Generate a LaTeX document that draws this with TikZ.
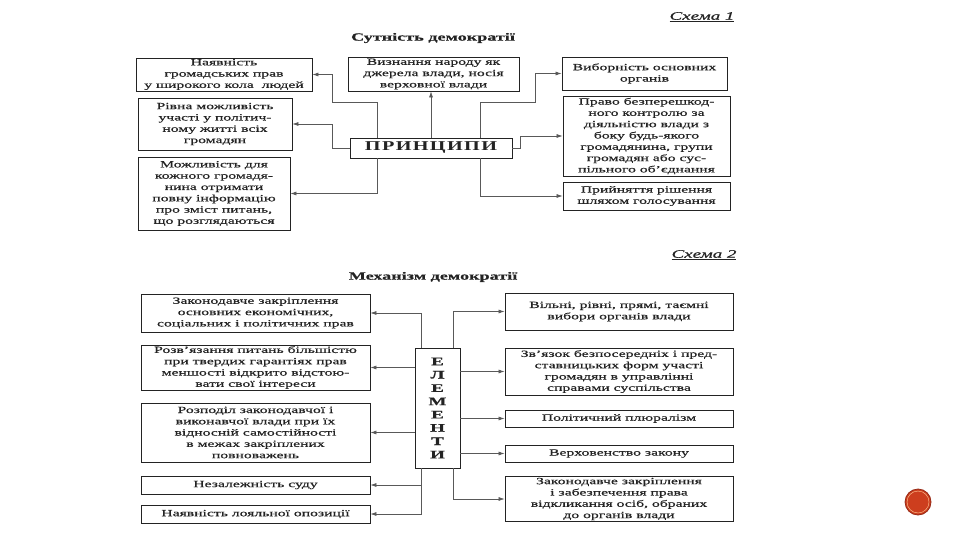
\documentclass[tikz,border=0pt]{standalone}
\usepackage{fontspec}
\setmainfont{Liberation Serif}[FakeStretch=1.65, FakeBold=0.6]
\newfontfamily\spacedfont{Liberation Serif}[FakeStretch=1.5, LetterSpace=10]
\usetikzlibrary{arrows.meta}

\definecolor{inkgray}{RGB}{35,35,35}
\definecolor{badgered}{RGB}{205,62,30}
\definecolor{badgerim}{RGB}{150,40,20}

\tikzset{
  box/.style={draw=inkgray, line width=0.9pt, align=center, inner sep=1pt,
    text=inkgray, font=\fontsize{9.5}{11.3}\selectfont},
  link/.style={draw=black!65, line width=0.6pt},
  heading/.style={text=inkgray, font=\fontsize{11}{13}\selectfont\bfseries},
  schemename/.style={text=inkgray, font=\fontsize{11.5}{13}\selectfont\itshape},
}

\begin{document}
\begin{tikzpicture}[x=1pt, y=-1pt, >={Latex[length=6pt,width=4pt]}]
  \path[use as bounding box, fill=white] (0,0) rectangle (960,540);

  % --- Scheme 1: principles ---
  \node[schemename] (sch1) at (702,17) {\underline{Схема 1}};
  \node[heading] (tit1) at (433,38) {Сутність демократії};

  \node[box, minimum width=162pt, minimum height=20pt,
        font=\fontsize{13.5}{14}\spacedfont\bfseries] (pr) at (431,148) {ПРИНЦИПИ};

  % left column
  \node[box, minimum width=176pt, minimum height=33pt] (nal) at (224,74.5)
    {Наявність\\громадських прав\\у широкого кола\ \ людей};
  \node[box, minimum width=154pt, minimum height=52pt] (riv) at (215,124)
    {Рівна можливість\\участі у політич-\\ному житті всіх\\громадян};
  \node[box, minimum width=152pt, minimum height=73pt] (mozh) at (214,193.5)
    {Можливість для\\кожного громадя-\\нина отримати\\повну інформацію\\про зміст питань,\\що розглядаються};

  % middle and right column
  \node[box, minimum width=171pt, minimum height=34pt] (viz) at (433.5,74)
    {Визнання народу як\\джерела влади, носія\\верховної влади};
  \node[box, minimum width=165pt, minimum height=33pt] (vyb) at (644.5,73.5)
    {Виборність основних\\органів};
  \node[box, minimum width=167pt, minimum height=80pt] (pravo) at (646.5,136)
    {Право безперешкод-\\ного контролю за\\діяльністю влади з\\боку будь-якого\\громадянина, групи\\громадян або сус-\\пільного об’єднання};
  \node[box, minimum width=167pt, minimum height=28pt] (pryin) at (646.5,196)
    {Прийняття рішення\\шляхом голосування};

  % connectors
  \draw[link, ->] ([xshift=-54pt]pr.north) |- (332,102) |- (nal.east);
  \draw[link, ->] (pr.west) -- ++(-17,0) |- (riv.east);
  \draw[link, ->] ([xshift=-54pt]pr.south) |- (mozh.east);
  \draw[link, ->] (pr.north) -- (pr.north |- viz.south);
  \draw[link, ->] ([xshift=49pt]pr.north) |- (535,102) |- (vyb.west);
  \draw[link, ->] (pr.east) -- ++(8,0) |- (pravo.west);
  \draw[link, ->] ([xshift=49pt]pr.south) |- (pryin.west);

  % --- Scheme 2: elements ---
  \node[schemename] (sch2) at (704,255) {\underline{Схема 2}};
  \node[heading] (tit2) at (433,277) {Механізм демократії};

  \node[box, minimum width=45pt, minimum height=120pt,
        font=\fontsize{11.5}{13.3}\selectfont\bfseries] (el) at (437.5,408)
    {Е\\Л\\Е\\М\\Е\\Н\\Т\\И};

  % left column
  \node[box, minimum width=229pt, minimum height=38pt] (zak) at (255.5,313)
    {Законодавче закріплення\\основних економічних,\\соціальних і політичних прав};
  \node[box, minimum width=229pt, minimum height=45pt] (rozv) at (255.5,367.5)
    {Розв’язання питань більшістю\\при твердих гарантіях прав\\меншості відкрито відстою-\\вати свої інтереси};
  \node[box, minimum width=229pt, minimum height=59pt] (rozp) at (255.5,432.5)
    {Розподіл законодавчої і\\виконавчої влади при їх\\відносній самостійності\\в межах закріплених\\повноважень};
  \node[box, minimum width=229pt, minimum height=18pt] (sud) at (255.5,485)
    {Незалежність суду};
  \node[box, minimum width=229pt, minimum height=18pt] (opoz) at (255.5,514)
    {Наявність лояльної опозиції};

  % right column
  \node[box, minimum width=228pt, minimum height=37pt] (vyby) at (619,311.5)
    {Вільні, рівні, прямі, таємні\\вибори органів влади};
  \node[box, minimum width=228pt, minimum height=47pt] (zvyaz) at (619,371.5)
    {Зв’язок безпосередніх і пред-\\ставницьких форм участі\\громадян в управлінні\\справами суспільства};
  \node[box, minimum width=228pt, minimum height=17pt] (plur) at (619,418.5)
    {Політичний плюралізм};
  \node[box, minimum width=228pt, minimum height=17pt] (verkh) at (619,453.5)
    {Верховенство закону};
  \node[box, minimum width=228pt, minimum height=44pt] (vidkl) at (619,499)
    {Законодавче закріплення\\і забезпечення права\\відкликання осіб, обраних\\до органів влади};

  % connectors
  \draw[link, ->] ([xshift=-16.5pt]el.north) |- (zak.east);
  \draw[link, ->] (el.west |- rozv.east) -- (rozv.east);
  \draw[link, ->] (el.west |- rozp.east) -- (rozp.east);
  \draw[link, ->] ([xshift=-16.5pt]el.south) |- (sud.east);
  \draw[link, ->] ([xshift=-16.5pt]el.south) |- (opoz.east);
  \draw[link, ->] ([xshift=15.5pt]el.north) |- (vyby.west);
  \draw[link, ->] (el.east |- zvyaz.west) -- (zvyaz.west);
  \draw[link, ->] (el.east |- plur.west) -- (plur.west);
  \draw[link, ->] (el.east |- verkh.west) -- (verkh.west);
  \draw[link, ->] ([xshift=15.5pt]el.south) |- (vidkl.west);

  % page badge
  \filldraw[fill=badgered, draw=badgerim, line width=0.8pt] (918,502) circle (13);
  \draw[orange!40, line width=0.4pt] (918,502) circle (11);
\end{tikzpicture}
\end{document}
